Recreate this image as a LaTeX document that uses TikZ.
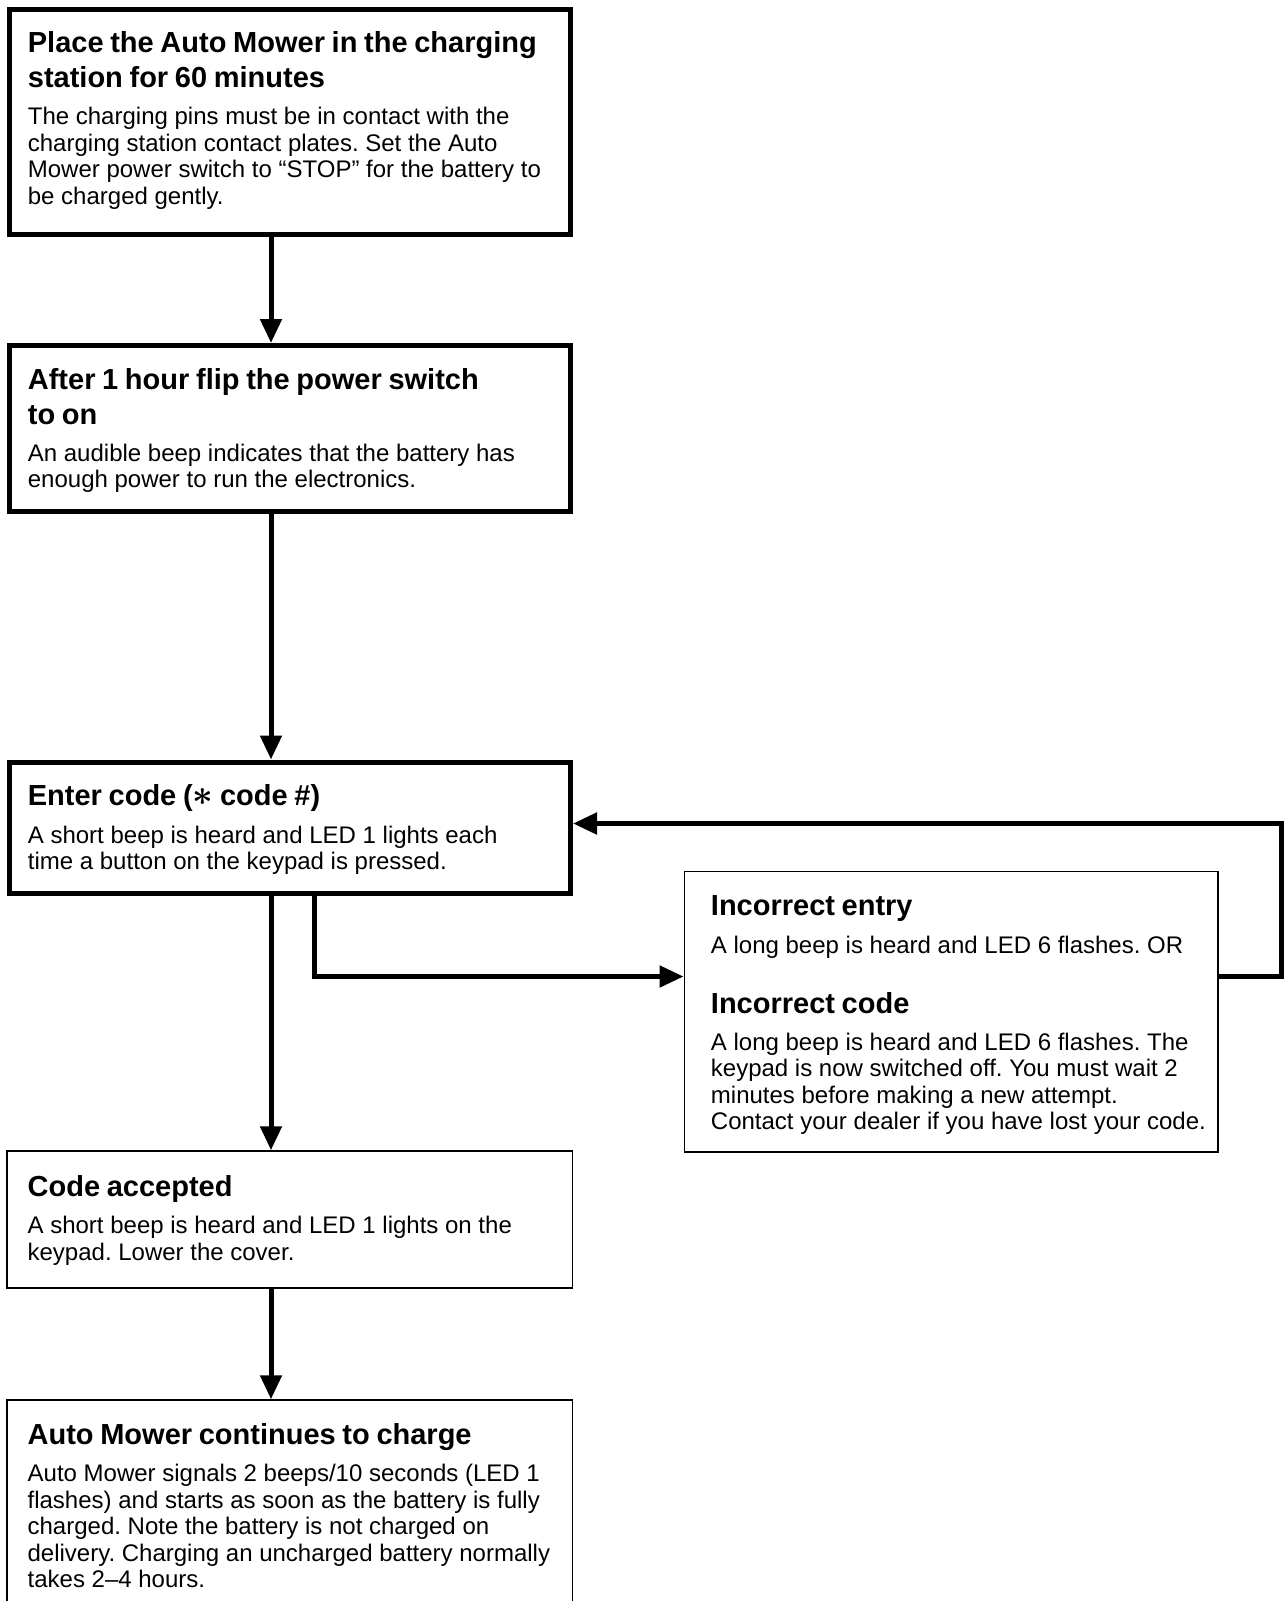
\documentclass[tikz,border=0pt]{standalone}
\usepackage{fontspec}
\usepackage{amsmath}
\usepackage{graphicx}
\setmainfont{Liberation Sans}
\usetikzlibrary{arrows.meta,positioning}
\frenchspacing

\newcommand\ttlfont{\fontsize{14.5pt}{17.4pt}\selectfont\bfseries}
\newcommand\bdyfont{\fontsize{12pt}{13.27pt}\selectfont}
\newcommand\stepinfo[2]{{\ttlfont #1\par}\vspace{5.3pt}{\bdyfont #2\par}}
\newcommand\keystar{\raisebox{0.3pt}{\scalebox{1.25}{$\boldsymbol{\ast}$}}}

\begin{document}
\begin{tikzpicture}[x=0.5pt, y=-0.5pt,
    heavybox/.style={draw, line width=2.5pt},
    lightbox/.style={draw, line width=0.75pt},
    infotext/.style={anchor=north west, inner sep=0pt, text width=266pt, align=left},
    flow/.style={-{Triangle[length=12pt,width=10.5pt]}, line width=2.5pt}]
    \useasboundingbox (0,0) rectangle (1284,1601);

    \node[heavybox, minimum width=280.75pt, minimum height=112.5pt] (charge) at (289.75, 121.5) {};
    \node[heavybox, minimum width=280.75pt, minimum height=82.75pt] (power) at (289.75, 428.25) {};
    \node[heavybox, minimum width=280.75pt, minimum height=65.5pt] (code) at (289.75, 827.5) {};
    \node[lightbox, minimum width=266.85pt, minimum height=140.35pt] (wrong) at (951.15, 1011.65) {};
    \node[lightbox, minimum width=282.75pt, minimum height=68.5pt] (accepted) at (289.75, 1219.5) {};
    \node[lightbox, minimum width=282.75pt, minimum height=105pt] (mowing) at (289.75, 1505) {};

    \node[infotext] (chargetext) at ([shift={(21,25)}]charge.north west) {\stepinfo{Place the Auto Mower in the charging\\station for 60 minutes}{The charging pins must be in contact with the\\charging station contact plates. Set the Auto\\Mower power switch to “STOP” for the battery to\\be charged gently.}};
    \node[infotext] (powertext) at ([shift={(21,25)}]power.north west) {\stepinfo{After 1 hour flip the power switch\\to on}{An audible beep indicates that the battery has\\enough power to run the electronics.}};
    \node[infotext] (codetext) at ([shift={(21,25)}]code.north west) {\stepinfo{Enter code (\keystar\ code \#)}{A short beep is heard and LED 1 lights each\\time a button on the keypad is pressed.}};
    \node[infotext, text width=253pt] (wrongtext) at ([shift={(27,25)}]wrong.north west) {\stepinfo{Incorrect entry}{A long beep is heard and LED 6 flashes. OR}\vspace{12.6pt}\stepinfo{Incorrect code}{A long beep is heard and LED 6 flashes. The\\keypad is now switched off. You must wait 2\\minutes before making a new attempt.\\Contact your dealer if you have lost your code.}};
    \node[infotext] (acceptedtext) at ([shift={(21,25)}]accepted.north west) {\stepinfo{Code accepted}{A short beep is heard and LED 1 lights on the\\keypad. Lower the cover.}};
    \node[infotext] (mowingtext) at ([shift={(21,24)}]mowing.north west) {\stepinfo{Auto Mower continues to charge}{Auto Mower signals 2 beeps/10 seconds (LED 1\\flashes) and starts as soon as the battery is fully\\charged. Note the battery is not charged on\\delivery. Charging an uncharged battery normally\\takes 2–4 hours.}};

    \coordinate (spine) at (271, 0);
    \coordinate (fork) at (314, 976.5);
    \coordinate (loop) at (1281.5, 823.5);

    \draw[flow] (charge.south -| spine) -- (power.north -| spine);
    \draw[flow] (power.south -| spine) -- (code.north -| spine);
    \draw[flow] (code.south -| spine) -- (accepted.north -| spine);
    \draw[flow] (accepted.south -| spine) -- (mowing.north -| spine);
    \draw[flow] (code.south -| fork) |- (fork -| wrong.west);
    \draw[flow] (wrong.east |- fork) -| (loop) -- (loop -| code.east);
\end{tikzpicture}
\end{document}
